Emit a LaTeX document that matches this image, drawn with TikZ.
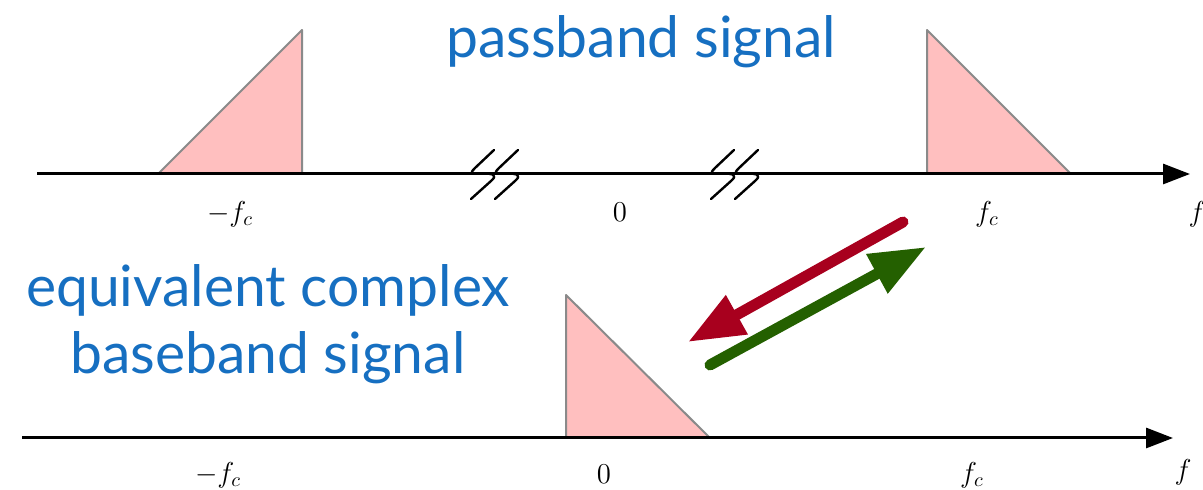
\documentclass[tikz,border=0pt]{standalone}
\usepackage{fontspec}
\setsansfont{Lato}
\usetikzlibrary{arrows.meta}
\definecolor{ttblue}{RGB}{22,111,193}
\definecolor{pinkfill}{RGB}{255,191,191}
\definecolor{edgegray}{RGB}{138,138,138}
\definecolor{arrred}{RGB}{168,0,30}
\definecolor{arrgreen}{RGB}{36,96,0}
\tikzset{
  axis/.style={line width=1.5pt,-{Triangle[length=13.5pt,width=10pt]}},
  spec/.style={fill=pinkfill,draw=edgegray,line width=1pt,line join=round},
  lab/.style={font=\fontsize{14}{16}\selectfont,inner sep=0pt},
  title/.style={font=\sffamily\fontsize{28.5}{33.5}\selectfont,text=ttblue,align=center,inner sep=0pt},
  brk/.style={line width=1.2pt,line cap=round,line join=round},
  bigarrow/.style={line width=5.5pt,line cap=round,-{Triangle[length=28pt,width=21pt]}}
}
\begin{document}
\begin{tikzpicture}[x=0.5pt,y=-0.5pt]
\useasboundingbox (0,0) rectangle (1203,490);
% top axis
\coordinate (a1s) at (37,174);
\coordinate (a1e) at (1190,174);
\draw[spec] (158,174) -- (302,174) -- (302,30) -- cycle;
\draw[spec] (927,174) -- (927,30) -- (1071,174) -- cycle;
\draw[axis] (a1s) -- (a1e);
% break marks
\foreach \x in {471,495,711,735}{
  \draw[brk] (\x+23,150) -- (\x+4,168) .. controls (\x-3,175) and (\x+2,173.5) .. (\x+12,173.5)
     .. controls (\x+22,173.5) and (\x+27,175) .. (\x+20,181) -- (\x,199);
}
\node[lab] (t1) at (230,214) {$-f_c$};
\node[lab] (t2) at (620,212) {$0$};
\node[lab] (t3) at (987,214) {$f_c$};
\node[lab] (t4) at (1197,214) {$f$};
% bottom axis
\coordinate (a2s) at (22,438);
\coordinate (a2e) at (1173,438);
\draw[spec] (566,438) -- (566,295) -- (710,438) -- cycle;
\draw[axis] (a2s) -- (a2e);
\node[lab] (b1) at (218,475) {$-f_c$};
\node[lab] (b2) at (604,474) {$0$};
\node[lab] (b3) at (972,475) {$f_c$};
\node[lab] (b4) at (1183,472) {$f$};
% titles
\node[title] (pb) at (641,42) {passband signal};
\node[title] (bb) at (268,324) {equivalent complex\\baseband signal};
% arrows
\coordinate (rs) at (903,222);
\coordinate (re) at (688,342);
\coordinate (gs) at (710,365);
\coordinate (ge) at (926,247);
\draw[bigarrow,draw=arrred,fill=arrred] (rs) -- (re);
\draw[bigarrow,draw=arrgreen,fill=arrgreen] (gs) -- (ge);
\end{tikzpicture}
\end{document}
